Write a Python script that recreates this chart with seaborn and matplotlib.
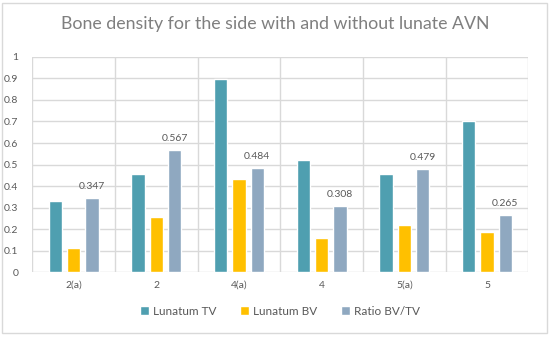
import matplotlib
matplotlib.use('Agg')
import matplotlib.pyplot as plt
import seaborn as sns
import pandas as pd
from matplotlib.patches import Rectangle

# data
categories = ['2(a)', '2', '4(a)', '4', '5(a)', '5']
lunatum_tv = [0.329, 0.454, 0.897, 0.521, 0.457, 0.702]
lunatum_bv = [0.113, 0.256, 0.433, 0.159, 0.218, 0.186]
ratio_bv_tv = [0.347, 0.567, 0.484, 0.308, 0.479, 0.265]
series_names = ['Lunatum TV', 'Lunatum BV', 'Ratio BV/TV']
colors = ['#4F9FB0', '#FFC000', '#8FA8C0']

df = pd.DataFrame({
    'category': categories * 3,
    'series': [s for s in series_names for _ in categories],
    'value': lunatum_tv + lunatum_bv + ratio_bv_tv,
})

sns.set_theme(style='white')
plt.rcParams['font.family'] = ['Lato', 'DejaVu Sans']

fig = plt.figure(figsize=(5.5, 3.4), dpi=100)
ax = fig.add_axes([0.0587, 0.199, 0.902, 0.634])

sns.barplot(data=df, x='category', y='value', hue='series', order=categories,
            hue_order=series_names, palette=colors, width=0.664, gap=0.27,
            saturation=1, errorbar=None, ax=ax, legend=True)

# value labels on the ratio bars only
ax.bar_label(ax.containers[2], fmt='%.3f', padding=5, fontsize=7.5, color='#595959')

ax.set_ylim(0, 1)
ax.set_xlim(-0.5, len(categories) - 0.5)
ax.set_yticks([i / 10 for i in range(11)])
ax.set_yticklabels(['0', '0.1', '0.2', '0.3', '0.4', '0.5', '0.6', '0.7', '0.8', '0.9', '1'])
ax.set_xticks(range(len(categories)))
ax.set_xticklabels(categories)
ax.set_xticks([i - 0.5 for i in range(len(categories) + 1)], minor=True)
ax.tick_params(axis='both', which='both', length=0, labelsize=7.5, colors='#595959')
ax.tick_params(axis='y', pad=10)
ax.tick_params(axis='x', pad=6)
ax.grid(axis='y', which='major', color='#D9D9D9', linewidth=1)
ax.grid(axis='x', which='minor', color='#D9D9D9', linewidth=1)
ax.set_axisbelow(True)
for sp in ax.spines.values():
    sp.set_visible(False)
ax.set_xlabel('')
ax.set_ylabel('')

ax.legend(loc='upper center', bbox_to_anchor=(0.5, -0.105), ncol=3, frameon=False,
          fontsize=8.5, handlelength=0.7, handleheight=0.7, handletextpad=0.4,
          columnspacing=2.0, labelcolor='#595959')

fig.text(0.5, 0.928, 'Bone density for the side with and without lunate AVN',
         ha='center', va='center', fontsize=12.8, color='#7F7F7F')

# outer chart border
fig.patches.append(Rectangle((0.004, 0.022), 0.99, 0.97, transform=fig.transFigure,
                             fill=False, edgecolor='#D9D9D9', linewidth=1))

fig.savefig('out.png', dpi=100)
